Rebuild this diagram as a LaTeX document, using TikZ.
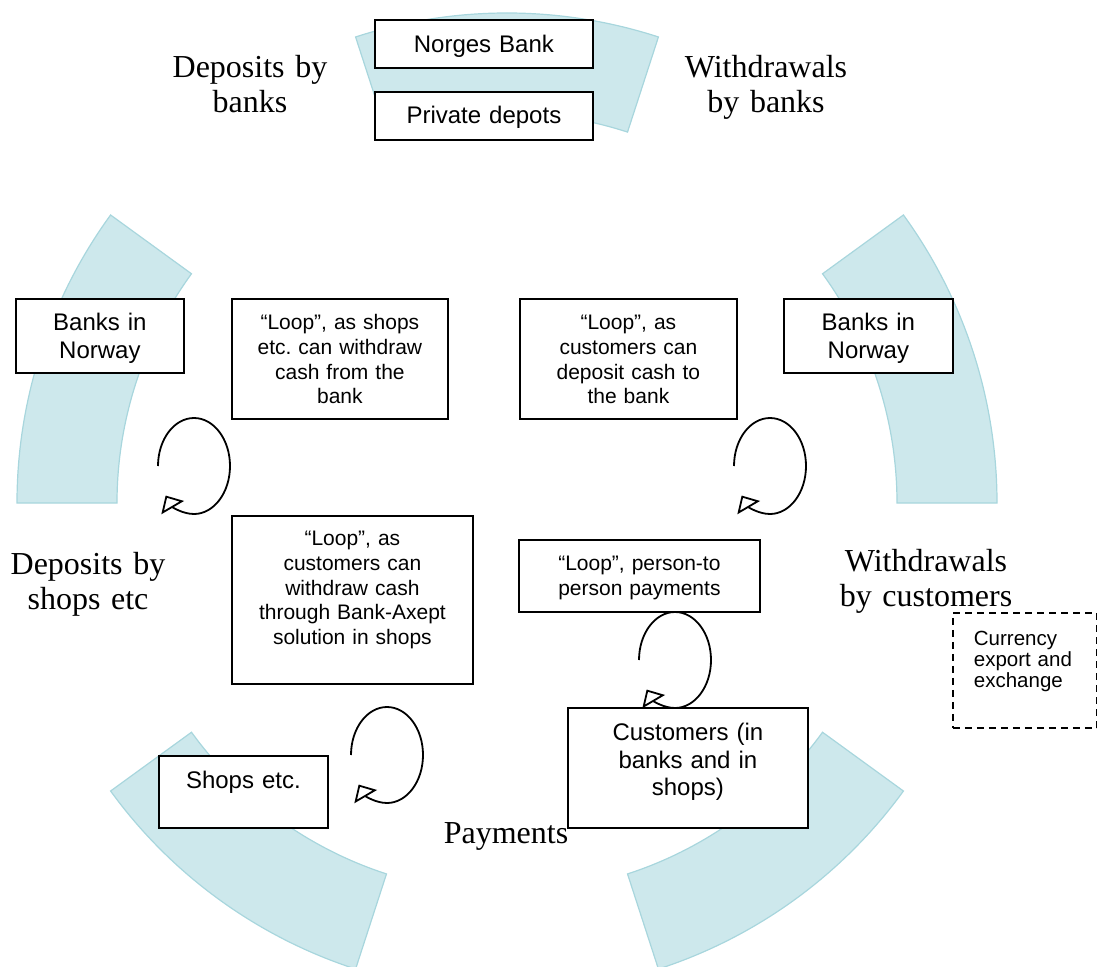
\documentclass[tikz,border=0pt]{standalone}
\usepackage{fontspec}
\setmainfont{Liberation Serif}
\newfontfamily\boxfont{Liberation Sans}
\usetikzlibrary{arrows.meta}
\frenchspacing

\definecolor{ringfill}{RGB}{205,232,236}
\definecolor{ringline}{RGB}{168,214,221}

\begin{document}
\begin{tikzpicture}[
  x=0.5pt, y=0.5pt,
  ring/.style={fill=ringfill, draw=ringline, line width=0.6pt},
  cashbox/.style={draw, fill=white, line width=0.9pt, inner sep=0pt,
    align=center, anchor=north west,
    font=\boxfont\fontsize{12}{13.6}\selectfont},
  loopbox/.style={cashbox, font=\boxfont\fontsize{10.5}{12.3}\selectfont},
  flowlabel/.style={anchor=base, text width=120pt, align=center,
    font=\fontsize{16}{17.5}\selectfont},
  looparrow/.style={line width=0.9pt, -{Triangle[open, length=7pt, width=13pt]}}
  ]
  \useasboundingbox (0,0) rectangle (1097,966);

  % the five ring segments
  \foreach \a [evaluate=\a as \e using \a+36] in {0,72,144,216,288}
    \draw[ring, shift={(507,463)}] (\a:245pt)
      arc[start angle=\a, end angle=\e, radius=245pt] -- (\e:195pt)
      arc[start angle=\e, end angle=\a, radius=195pt] -- cycle;

  % depots
  \node[cashbox, text width=109pt, text height=16.5pt, text depth=7.5pt] (norges) at (374,947) {Norges Bank};
  \node[cashbox, text width=109pt, text height=16pt, text depth=8pt] (depots) at (374,875) {Private depots};

  % banks
  \node[cashbox, text width=84pt, text height=16pt, text depth=21pt] (banksL) at (15,668) {Banks in\\Norway};
  \node[cashbox, text width=84.5pt, text height=16pt, text depth=21pt] (banksR) at (783,668) {Banks in\\Norway};

  % loops
  \node[loopbox, text width=108pt, text height=15.5pt, text depth=44.5pt] (loopshops) at (231,668)
    {“Loop”, as shops\\etc. can withdraw\\cash from the\\bank};
  \node[loopbox, text width=108.5pt, text height=15.5pt, text depth=44.5pt] (loopdeposit) at (519,668)
    {“Loop”, as\\customers can\\deposit cash to\\the bank};
  \node[loopbox, text width=120.5pt, text height=15pt, text depth=69pt] (loopaxept) at (231,451)
    {“Loop”, as\\customers can\\withdraw cash\\through Bank-Axept\\solution in shops};
  \node[loopbox, text width=120.5pt, text height=15.5pt, text depth=20.5pt] (loopp2p) at (518,427)
    {“Loop”, person-to\\person payments};

  % shops and customers
  \node[cashbox, text width=120pt, text height=16.5pt, text depth=43.5pt] (customers) at (567,259)
    {Customers (in\\banks and in\\shops)};
  \node[cashbox, text width=84.5pt, text height=16.5pt, text depth=19.5pt] (shops) at (158,211) {Shops etc.};
  \node[cashbox, align=left, inner xsep=10.5pt, text width=51pt, text height=16.5pt, text depth=41pt,
    dash pattern=on 3.5pt off 2.5pt, font=\boxfont\fontsize{10.25}{10.5}\selectfont] (currency) at (952,354)
    {Currency\\export and\\exchange};

  % flow labels
  \node[flowlabel] (depbanks) at (250,888) {Deposits by\\banks};
  \node[flowlabel] (wdbanks) at (766,888) {Withdrawals\\by banks};
  \node[flowlabel] (depshops) at (88,392) {Deposits by\\shops etc};
  \node[flowlabel] (wdcustomers) at (926,395) {Withdrawals\\by customers};
  \node[flowlabel] (payments) at (506,123) {Payments};

  % circular arrows
  \coordinate (circA) at (194,500);
  \coordinate (circB) at (770,500);
  \coordinate (circC) at (675,306);
  \coordinate (circD) at (387,211);
  \foreach \c in {circA,circB,circC,circD}
    \draw[looparrow] (\c) ++(180:18pt)
      arc[start angle=180, end angle=-142, x radius=18pt, y radius=24pt];
\end{tikzpicture}
\end{document}
